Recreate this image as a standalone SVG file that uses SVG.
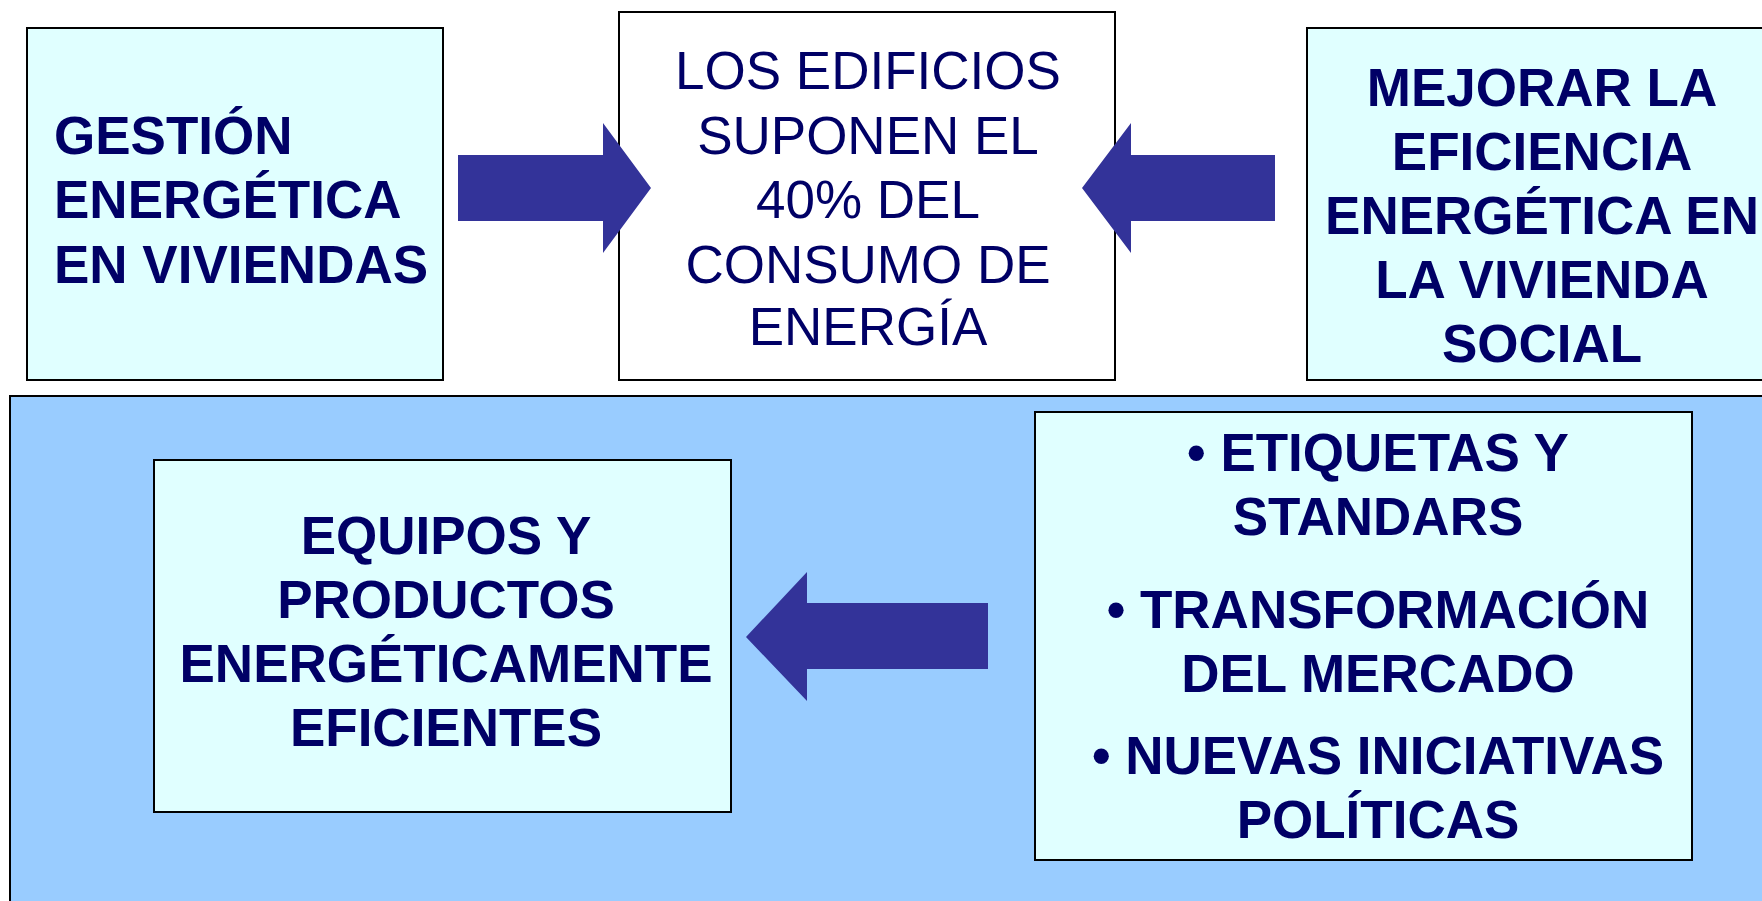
<svg xmlns="http://www.w3.org/2000/svg" width="1762" height="901" viewBox="0 0 1762 901">
<style>
.box{fill:#E0FFFF;stroke:#000;stroke-width:2}
.wbox{fill:#FFFFFF;stroke:#000;stroke-width:2}
.panel{fill:#99CCFF;stroke:#000;stroke-width:2}
.arrow{fill:#333399}
text{font-family:"Liberation Sans",Arial,sans-serif;font-size:53px;fill:#000066}
.b{font-weight:bold}
.c{text-anchor:middle}
</style>
<rect width="1762" height="901" fill="#FFFFFF"/>
<g id="panel">
<rect class="panel" x="10" y="396" width="1760" height="520"/>
</g>
<g id="gestion">
<rect class="box" x="27" y="28" width="416" height="352"/>
<text class="b" x="54" y="154">GESTIÓN</text>
<text class="b" x="54" y="218">ENERGÉTICA</text>
<text class="b" x="54" y="283">EN VIVIENDAS</text>
</g>
<g id="edificios">
<rect class="wbox" x="619" y="12" width="496" height="368"/>
<text class="c" x="868" y="89">LOS EDIFICIOS</text>
<text class="c" x="868" y="154">SUPONEN EL</text>
<text class="c" x="868" y="218">40% DEL</text>
<text class="c" x="868" y="283">CONSUMO DE</text>
<text class="c" x="868" y="345">ENERGÍA</text>
</g>
<g id="mejorar">
<rect class="box" x="1307" y="28" width="470" height="352"/>
<text class="b c" x="1542" y="106">MEJORAR LA</text>
<text class="b c" x="1542" y="170">EFICIENCIA</text>
<text class="b c" x="1542" y="234">ENERGÉTICA EN</text>
<text class="b c" x="1542" y="298">LA VIVIENDA</text>
<text class="b c" x="1542" y="362">SOCIAL</text>
</g>
<g id="equipos">
<rect class="box" x="154" y="460" width="577" height="352"/>
<text class="b c" x="446" y="554">EQUIPOS Y</text>
<text class="b c" x="446" y="618">PRODUCTOS</text>
<text class="b c" x="446" y="682">ENERGÉTICAMENTE</text>
<text class="b c" x="446" y="746">EFICIENTES</text>
</g>
<g id="medidas">
<rect class="box" x="1035" y="412" width="657" height="448"/>
<text class="b c" x="1378" y="471">• ETIQUETAS Y</text>
<text class="b c" x="1378" y="535">STANDARS</text>
<text class="b c" x="1378" y="628">• TRANSFORMACIÓN</text>
<text class="b c" x="1378" y="692">DEL MERCADO</text>
<text class="b c" x="1378" y="774">• NUEVAS INICIATIVAS</text>
<text class="b c" x="1378" y="838">POLÍTICAS</text>
</g>
<g id="connectors">
<polygon class="arrow" points="458,155 603,155 603,123 651,188 603,253 603,221 458,221"/>
<polygon class="arrow" points="1275,155 1131,155 1131,123 1082,188 1131,253 1131,221 1275,221"/>
<polygon class="arrow" points="988,603 807,603 807,572 746,637 807,701 807,669 988,669"/>
</g>
</svg>
